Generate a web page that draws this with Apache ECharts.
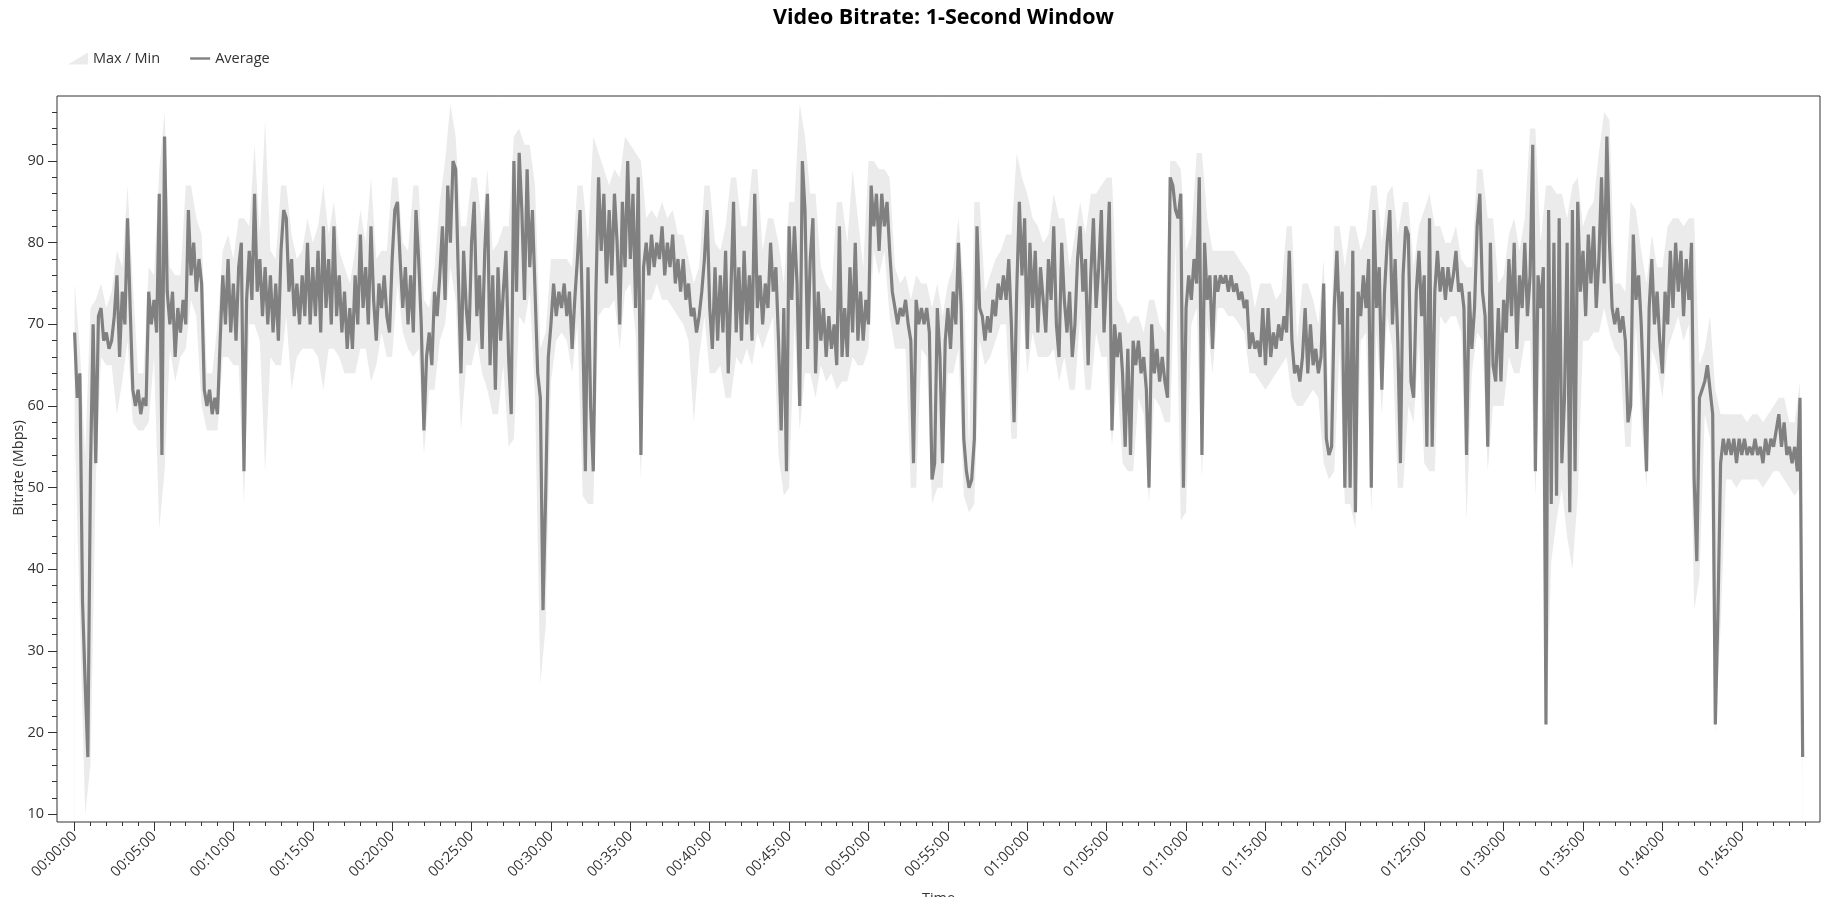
<!DOCTYPE html>
<html>
<head>
<meta charset="utf-8">
<title>Video Bitrate: 1-Second Window</title>
<script src="https://cdn.jsdelivr.net/npm/echarts@6/dist/echarts.min.js"></script>
<style>
  html, body { margin: 0; padding: 0; background: #fff; }
  #chart { width: 1842px; height: 897px; }
</style>
</head>
<body>
<div id="chart"></div>
<script>
// average bitrate (Mbps), one value every 10 s from 00:00:00
const avgStep = 10;
const avgRate = [
  69, 61, 64, 36, 26, 17, 52, 70, 53, 71, 72, 68, 69, 67, 68, 71, 76, 66, 74, 70,
  83, 72, 62, 60, 62, 59, 61, 60, 74, 70, 73, 69, 86, 54, 93, 74, 70, 74, 66, 72,
  69, 73, 70, 84, 76, 80, 74, 78, 75, 62, 60, 62, 59, 61, 59, 68, 76, 70, 78, 69,
  75, 68, 77, 80, 52, 73, 79, 73, 86, 74, 78, 71, 77, 70, 76, 69, 75, 68, 79, 84,
  83, 74, 78, 71, 75, 70, 76, 71, 80, 70, 77, 71, 79, 69, 82, 72, 78, 70, 82, 71,
  76, 69, 74, 67, 72, 67, 76, 70, 81, 72, 77, 70, 82, 73, 68, 75, 72, 76, 71, 69,
  78, 84, 85, 78, 72, 77, 70, 76, 69, 84,
  78, 70, 57, 66, 69, 65, 74, 71, 76, 82, 73, 87, 80, 90, 89, 76, 64, 79, 72, 68,
  80, 85, 71, 76, 67, 79, 86, 65, 76, 62, 77, 68, 74, 79, 66, 59, 90, 74, 91, 84,
  73, 89, 77, 84, 74, 64, 61, 35, 49, 66, 70, 75, 71, 74, 72, 75, 71, 74, 67, 73,
  78, 84, 70, 52, 77, 60, 52, 74, 88, 79, 86, 75, 84, 76, 86, 80, 70, 85, 77, 90,
  78, 86, 72, 88, 54, 77, 80, 76, 81, 77, 80, 78, 82, 76, 80, 77, 81, 75, 78, 74,
  78, 73, 75, 71, 72, 69, 71, 74, 78, 84, 72, 67, 77, 68, 76, 69, 79, 64, 74, 85,
  69, 77, 68, 79, 70, 76, 68, 86, 72, 76, 70, 75, 72,
  80, 74, 77, 68, 57, 72, 52, 82, 73, 82, 75, 60, 90, 84, 67, 78, 83, 64, 74, 68,
  72, 66, 71, 67, 70, 65, 82, 66, 72, 66, 77, 69, 80, 68, 74, 68, 73, 70, 87, 82,
  86, 79, 86, 82, 85, 79, 74, 72, 70, 72, 71, 73, 70, 68, 53, 73, 70, 72, 70, 72,
  69, 51, 53, 72, 66, 53, 68, 72, 67, 74, 70, 80, 72, 56, 52, 50, 51, 56, 82, 72,
  71, 68, 71, 69, 73, 71, 75, 73, 76, 73, 78, 70, 58, 74, 85, 76, 83, 67, 80, 72,
  79, 69, 77, 73, 69, 78, 73, 82, 70, 66, 80, 73, 69, 74, 66, 70, 78, 82, 74, 78,
  65, 76, 83, 72, 77, 84, 69, 76, 85, 57, 70, 66, 69, 64,
  55, 67, 54, 68, 65, 68, 64, 66, 62, 50, 70, 64, 67, 63, 66, 63, 61, 88, 87, 84,
  83, 86, 50, 72, 76, 73, 78, 75, 88, 54, 80, 73, 76, 67, 76, 74, 76, 75, 76, 74,
  76, 74, 75, 73, 74, 72, 73, 67, 69, 67, 68, 66, 72, 65, 72, 66, 69, 67, 70, 68,
  71, 69, 79, 68, 64, 65, 63, 66, 72, 64, 70, 65, 67, 64, 66, 75, 56, 54, 55, 72,
  79, 70, 74, 50, 72, 50, 79, 47, 74, 71, 76, 72, 78, 50, 84, 72, 77, 62, 74, 80,
  84, 70, 78, 68, 53, 76, 82, 81, 63, 61, 74, 79, 71, 76, 55, 83, 55, 74, 79, 74,
  77, 73, 77, 74, 76, 79, 74, 75, 72, 54, 74, 67, 72,
  82, 86, 74, 71, 55, 80, 65, 63, 72, 63, 73, 69, 78, 71, 80, 67, 76, 72, 80, 71,
  76, 92, 52, 76, 72, 77, 21, 84, 48, 80, 49, 83, 53, 61, 80, 47, 84, 52, 85, 74,
  79, 71, 81, 75, 82, 72, 78, 88, 75, 93, 80, 72, 70, 72, 69, 71, 68, 58, 60, 81,
  73, 76, 70, 61, 52, 72, 78, 70, 74, 68, 64, 74, 70, 79, 72, 80, 74, 79, 71, 78,
  73, 80, 51, 41, 61, 62, 63, 65, 62, 59, 21, 35, 53, 56, 54, 56, 54, 56, 53, 56,
  54, 56, 54, 55, 54, 56, 54, 55, 53, 56, 54, 56, 55, 57, 59, 55, 58, 54, 55, 53,
  55, 52, 61, 17
];

// window max / min (Mbps), one pair every 20 s
const bandStep = 20;
const maxRate = [
  75, 67, 54, 72, 73, 75, 72, 74, 79, 77, 87, 75, 64, 64, 77, 76, 89, 96, 77, 76,
  76, 87, 87, 83, 81, 64, 64, 70, 79, 81, 78, 83, 83, 82, 92, 81, 95, 79, 78, 87,
  87, 81, 78, 79, 83, 80, 82, 87, 81, 85, 79, 77, 75, 79, 84, 80, 88, 78, 79, 79,
  88, 88, 80, 79, 87, 87, 73, 72, 77, 85, 90, 97, 93, 82, 82, 88, 88, 82, 89, 79,
  80, 82, 82, 93, 94, 92, 92, 87, 67, 69, 78, 78, 78, 78, 77, 87, 87, 80, 93, 91,
  89, 87, 89, 88, 93, 92, 91, 90, 83, 84, 83, 85, 83, 84, 81, 81, 78, 75, 77, 87,
  87, 80, 79, 82, 88, 88, 82, 82, 89, 89, 79, 83, 83, 80, 75, 85, 85, 97, 93, 86,
  86, 77, 75, 74, 85, 85, 80, 89, 83, 77, 90, 90, 89, 89, 88, 77, 75, 76, 73, 76,
  75, 75, 72, 75, 71, 75, 77, 83, 75, 55, 85, 85, 74, 76, 78, 79, 81, 81, 91, 88,
  86, 83, 82, 80, 81, 86, 83, 83, 77, 81, 85, 81, 86, 86, 87, 88, 88, 73, 72, 70,
  71, 71, 69, 73, 73, 70, 69, 90, 90, 89, 79, 81, 91, 91, 83, 79, 79, 79, 79, 79,
  78, 77, 76, 72, 75, 75, 75, 73, 74, 82, 82, 68, 75, 75, 73, 70, 78, 59, 82, 82,
  77, 82, 82, 79, 81, 87, 87, 80, 86, 87, 81, 85, 85, 77, 82, 84, 86, 82, 82, 80,
  80, 82, 78, 77, 77, 89, 89, 83, 83, 75, 76, 81, 83, 79, 83, 94, 94, 80, 87, 87,
  86, 86, 83, 87, 88, 82, 84, 85, 91, 96, 95, 75, 75, 74, 85, 84, 79, 75, 81, 77,
  77, 82, 83, 83, 82, 83, 83, 65, 67, 71, 62, 59, 59, 59, 59, 59, 58, 59, 59, 58,
  59, 60, 61, 61, 58, 58, 63, 19
];
const minRate = [
  58, 34, 10, 16, 51, 66, 65, 65, 59, 63, 68, 58, 57, 57, 58, 66, 45, 52, 67, 63,
  66, 67, 73, 71, 60, 57, 57, 57, 66, 66, 65, 65, 48, 70, 70, 68, 52, 66, 65, 65,
  71, 62, 66, 67, 67, 67, 66, 62, 67, 67, 66, 64, 64, 64, 67, 67, 63, 65, 69, 66,
  66, 75, 69, 67, 66, 67, 54, 62, 62, 68, 70, 77, 73, 57, 65, 65, 68, 64, 62, 59,
  59, 65, 55, 56, 71, 70, 74, 61, 26, 33, 63, 68, 69, 68, 64, 70, 49, 48, 48, 71,
  72, 72, 73, 67, 74, 75, 69, 51, 73, 73, 75, 73, 73, 72, 71, 70, 68, 58, 66, 71,
  64, 64, 65, 61, 61, 66, 65, 67, 65, 69, 67, 69, 71, 54, 49, 50, 70, 57, 64, 64,
  61, 65, 63, 64, 62, 63, 63, 66, 65, 65, 67, 79, 76, 79, 71, 67, 67, 67, 50, 50,
  67, 66, 48, 50, 50, 64, 64, 67, 49, 47, 48, 68, 65, 66, 68, 70, 70, 56, 56, 73,
  64, 69, 66, 66, 66, 67, 63, 66, 62, 62, 71, 62, 62, 69, 66, 66, 55, 63, 53, 52,
  52, 61, 59, 48, 61, 60, 58, 58, 80, 46, 47, 70, 72, 51, 70, 64, 72, 72, 71, 71,
  70, 69, 64, 64, 63, 62, 63, 64, 65, 66, 61, 60, 60, 61, 62, 61, 53, 51, 52, 67,
  48, 48, 45, 68, 69, 47, 69, 59, 71, 67, 50, 50, 60, 58, 68, 53, 52, 52, 71, 70,
  71, 71, 69, 46, 64, 69, 68, 52, 60, 60, 60, 66, 64, 64, 68, 68, 49, 69, 20, 41,
  46, 50, 44, 40, 49, 68, 68, 69, 69, 72, 69, 67, 66, 55, 55, 70, 58, 50, 67, 65,
  61, 67, 69, 71, 68, 70, 35, 39, 59, 56, 20, 33, 51, 51, 50, 51, 51, 51, 51, 50,
  51, 52, 52, 51, 50, 49, 50, 15
];

const fontFamily = 'Open Sans';
const textColor = '#333';
const frameColor = '#333';

function hms(sec) {
  const h = Math.floor(sec / 3600);
  const m = Math.floor((sec % 3600) / 60);
  const s = sec % 60;
  return [h, m, s].map(v => String(v).padStart(2, '0')).join(':');
}

const lastT = (avgRate.length - 1) * avgStep;
const avgData = avgRate.map((v, i) => [i * avgStep, v]);
const bandTime = maxRate.map((v, j) => Math.min(j * bandStep, lastT));
const maxData = maxRate.map((v, j) => [bandTime[j], v]);
const minData = minRate.map((v, j) => [bandTime[j], v]);

// pixel layout of the plot frame
const frame = { left: 57, right: 1820, top: 96, bottom: 822 };
const pxPerMin = 15.878;
const x0 = 74.6;                 // x of 00:00:00
const y10 = 814.25, pxPerMbps = 8.165;
const H = 897, W = 1842;

const chart = echarts.init(document.getElementById('chart'));

const hidden = { show: false };
const option = {
  animation: false,
  backgroundColor: '#fff',
  title: {
    text: 'Video Bitrate: 1-Second Window',
    left: (frame.left + frame.right) / 2,
    top: 2,
    textAlign: 'center',
    textStyle: { fontFamily, fontSize: 21.5, fontWeight: 'bold', color: '#000' }
  },
  legend: {
    left: 63,
    top: 46,
    itemWidth: 20,
    itemHeight: 12,
    itemGap: 30,
    textStyle: { fontFamily, fontSize: 14.5, color: textColor },
    data: [
      { name: 'Max / Min', icon: 'path://M0,12L20,0L20,12Z' },
      { name: 'Average', icon: 'path://M0,0H20V2.4H0Z' }
    ]
  },
  // axis titles
  graphic: [
    { type: 'text', x: 19, y: 468, rotation: Math.PI / 2,
      style: { text: 'Bitrate (Mbps)', align: 'center', verticalAlign: 'middle',
        textAlign: 'center', textVerticalAlign: 'middle',
        font: '14.5px "Open Sans"', fill: textColor } },
    { type: 'text', x: (frame.left + frame.right) / 2, y: 891,
      style: { text: 'Time', align: 'center', verticalAlign: 'top',
        textAlign: 'center', textVerticalAlign: 'top',
        font: '14.5px "Open Sans"', fill: textColor } }
  ],
  grid: [
    // 0: plot frame + data
    { left: frame.left, top: frame.top, width: frame.right - frame.left, height: frame.bottom - frame.top,
      show: true, borderColor: frameColor, borderWidth: 1, backgroundColor: 'transparent', z: 5 },
    // 1: one-minute ticks
    { left: x0, top: frame.top, width: 109 * pxPerMin, height: frame.bottom - frame.top },
    // 2: five-minute ticks + labels
    { left: x0, top: frame.top, width: 105 * pxPerMin, height: frame.bottom - frame.top },
    // 3: minor y ticks (every 2)
    { left: frame.left, right: W - frame.right, top: y10 - 86 * pxPerMbps, bottom: H - y10 },
    // 4: major y ticks + labels
    { left: frame.left, right: W - frame.right, top: y10 - 80 * pxPerMbps, bottom: H - y10 }
  ],
  xAxis: [
    { gridIndex: 0, type: 'value',
      min: (frame.left - x0) / pxPerMin * 60, max: (frame.right - x0) / pxPerMin * 60,
      show: false },
    { gridIndex: 1, type: 'value', min: 0, max: 6540, interval: 60,
      axisLine: hidden, axisLabel: hidden, splitLine: hidden,
      axisTick: { length: 4, lineStyle: { color: frameColor } } },
    { gridIndex: 2, type: 'value', min: 0, max: 6300, interval: 300,
      axisLine: hidden, splitLine: hidden,
      axisTick: { length: 9, lineStyle: { color: frameColor } },
      axisLabel: { rotate: 45, margin: 12, fontFamily, fontSize: 14.5, color: textColor,
        formatter: v => hms(v) } },
    { gridIndex: 3, type: 'value', show: false },
    { gridIndex: 4, type: 'value', show: false }
  ],
  yAxis: [
    { gridIndex: 0, type: 'value',
      min: 10 + (y10 - frame.bottom) / pxPerMbps, max: 10 + (y10 - frame.top) / pxPerMbps,
      show: false },
    { gridIndex: 1, type: 'value', show: false },
    { gridIndex: 2, type: 'value', show: false },
    { gridIndex: 3, type: 'value', min: 10, max: 96, interval: 2,
      axisLine: hidden, axisLabel: hidden, splitLine: hidden,
      axisTick: { length: 5, lineStyle: { color: frameColor } } },
    { gridIndex: 4, type: 'value', min: 10, max: 90, interval: 10,
      axisLine: hidden, splitLine: hidden,
      axisTick: { length: 9, lineStyle: { color: frameColor } },
      axisLabel: { margin: 13, fontFamily, fontSize: 14.5, color: textColor } }
  ],
  series: [
    {
      name: 'Max / Min',
      type: 'line',
      xAxisIndex: 0, yAxisIndex: 0,
      data: maxData,
      showSymbol: false, symbol: 'none',
      itemStyle: { color: '#ebebeb' },
      lineStyle: { width: 0 },
      areaStyle: { color: '#ebebeb', opacity: 1, origin: 'start' },
      z: 1, silent: true
    },
    {
      name: 'min mask',
      type: 'line',
      xAxisIndex: 0, yAxisIndex: 0,
      data: minData,
      showSymbol: false, symbol: 'none',
      itemStyle: { color: '#fff' },
      lineStyle: { width: 0 },
      areaStyle: { color: '#fff', opacity: 1, origin: 'start' },
      z: 2, silent: true
    },
    {
      name: 'Average',
      type: 'line',
      xAxisIndex: 0, yAxisIndex: 0,
      data: avgData,
      showSymbol: false, symbol: 'none',
      itemStyle: { color: '#808080' },
      lineStyle: { color: '#808080', width: 3.2, join: 'bevel' },
      z: 3
    }
  ]
};

chart.setOption(option);
</script>
</body>
</html>
